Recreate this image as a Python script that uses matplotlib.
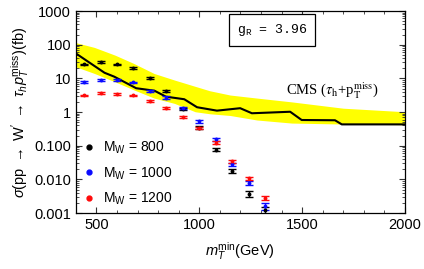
import numpy as np
import matplotlib
matplotlib.use("Agg")
import matplotlib.pyplot as plt
from matplotlib.lines import Line2D
from matplotlib.ticker import MultipleLocator, LogLocator, NullFormatter

plt.rcParams['font.family'] = ['Liberation Sans', 'DejaVu Sans']
plt.rcParams['mathtext.fontset'] = 'custom'
plt.rcParams['mathtext.rm'] = 'Liberation Sans'
plt.rcParams['mathtext.it'] = 'Liberation Sans:italic'
plt.rcParams['mathtext.bf'] = 'Liberation Sans:bold'

## ================= DATA ================= ##
mT_min = [440, 520, 600, 680, 760, 840, 920, 1000, 1080, 1160, 1240, 1320]

sigma_800 = [26, 30, 26, 20, 10.5, 4.3, 1.25, 0.34, 0.077, 0.018, 0.0037, 0.0012]
sigma_1000 = [8.0, 9.0, 9.0, 7.6, 4.3, 2.7, 1.3, 0.53, 0.156, 0.028, 0.0079, 0.0016]
sigma_1200 = [3.1, 3.7, 3.4, 3.1, 2.1, 1.3, 0.7, 0.34, 0.124, 0.034, 0.0108, 0.0028]

# relative statistical errors
relerr_800 = [0.06, 0.06, 0.06, 0.06, 0.07, 0.08, 0.08, 0.1, 0.1, 0.12, 0.18, 0.3]
relerr_1000 = [0.06, 0.06, 0.06, 0.06, 0.07, 0.08, 0.08, 0.08, 0.1, 0.12, 0.15, 0.25]
relerr_1200 = [0.06, 0.06, 0.06, 0.06, 0.07, 0.08, 0.08, 0.08, 0.08, 0.1, 0.1, 0.12]

# CMS limit line
cms_x = [400, 539, 587, 693, 782, 838, 927, 989, 1086, 1199, 1256, 1442, 1498, 1660, 1693, 2000]
cms_y = [55, 14.7, 11.2, 5.1, 4.3, 2.86, 2.4, 1.39, 1.10, 1.30, 0.92, 1.02, 0.58, 0.57, 0.43, 0.43]

# CMS band
band_x = [400, 490, 590, 680, 780, 880, 980, 1050, 1150, 1280, 1450, 1700, 2000]
band_hi = [115, 83, 49, 28, 14, 8.9, 5.8, 4.3, 3.2, 2.6, 2.0, 1.3, 1.02]
band_lo = [22, 14, 7.9, 4.6, 2.6, 1.8, 1.02, 0.89, 0.79, 0.58, 0.47, 0.44, 0.42]

series = [
    ("M$_\\mathregular{W}$ = 800", sigma_800, relerr_800, "black"),
    ("M$_\\mathregular{W}$ = 1000", sigma_1000, relerr_1000, "#0a0aff"),
    ("M$_\\mathregular{W}$ = 1200", sigma_1200, relerr_1200, "#ff0a0a"),
]

yticks = [1000, 100, 10, 1, 0.1, 0.01, 0.001]
ytick_labels = ["1000", "100", "10", "1", "0.100", "0.010", "0.001"]

## ================= PLOT ================= ##
fig = plt.figure(figsize=(4.24, 2.69), dpi=100)
ax = fig.add_axes([0.179, 0.208, 0.776, 0.751])

ax.fill_between(band_x, band_lo, band_hi, color="#ffff00", lw=0, zorder=1)
ax.plot(cms_x, cms_y, color="black", lw=1.5, zorder=2)

for label, vals, rel, col in series:
    vals = np.array(vals)
    err = vals * np.array(rel)
    ax.errorbar(mT_min, vals, yerr=err, fmt='o', ms=1.8, color=col,
                ecolor=col, elinewidth=1.0, capsize=2.8, capthick=1.0, zorder=3)

ax.set_yscale('log')
ax.set_xlim(400, 2000)
ax.set_ylim(0.001, 1000)
ax.set_yticks(yticks)
ax.set_yticklabels(ytick_labels)
ax.yaxis.set_minor_locator(LogLocator(base=10, subs=np.arange(2, 10), numticks=20))
ax.yaxis.set_minor_formatter(NullFormatter())
ax.xaxis.set_major_locator(MultipleLocator(500))
ax.xaxis.set_minor_locator(MultipleLocator(100))

ax.tick_params(which='both', direction='in', top=True, right=True, labelsize=10.5, color='#333333')
ax.tick_params(which='major', length=4, width=0.8)
ax.tick_params(which='minor', length=2, width=0.6)
for sp in ax.spines.values():
    sp.set_linewidth(0.9)

ax.set_xlabel("$m_T^{\\mathregular{min}}$(GeV)", fontsize=10.5, labelpad=6)
ax.set_ylabel("$\\sigma$(pp $\\rightarrow$ W$^{\\prime}$ $\\rightarrow$ $\\tau_h p_T^{\\mathregular{miss}}$)(fb)",
              fontsize=10.5, labelpad=2)

ax.text(0.596, 0.906, "g$_\\mathregular{R}$ = 3.96", transform=ax.transAxes,
        ha='center', va='center', fontsize=9.5, family=['Liberation Mono', 'DejaVu Sans Mono'],
        bbox=dict(boxstyle='square,pad=0.6', fc='white', ec='black', lw=0.9))

ax.text(0.64, 0.605, "CMS ($\\tau_{\\rm h}$+p$_{\\rm T}^{\\rm miss}$)", transform=ax.transAxes,
        ha='left', va='center', fontsize=10.5, family=['Liberation Serif', 'DejaVu Serif'],
        math_fontfamily='stix')

handles = [Line2D([], [], marker='o', ls='', color=c, ms=3.5) for _, _, _, c in series]
ax.legend(handles, [s[0] for s in series], loc='lower left', bbox_to_anchor=(-0.01, -0.025),
          frameon=False, fontsize=10, handlelength=0.8, handletextpad=0.6,
          labelspacing=0.65, borderpad=0.3)

fig.savefig("out.png", dpi=100)
